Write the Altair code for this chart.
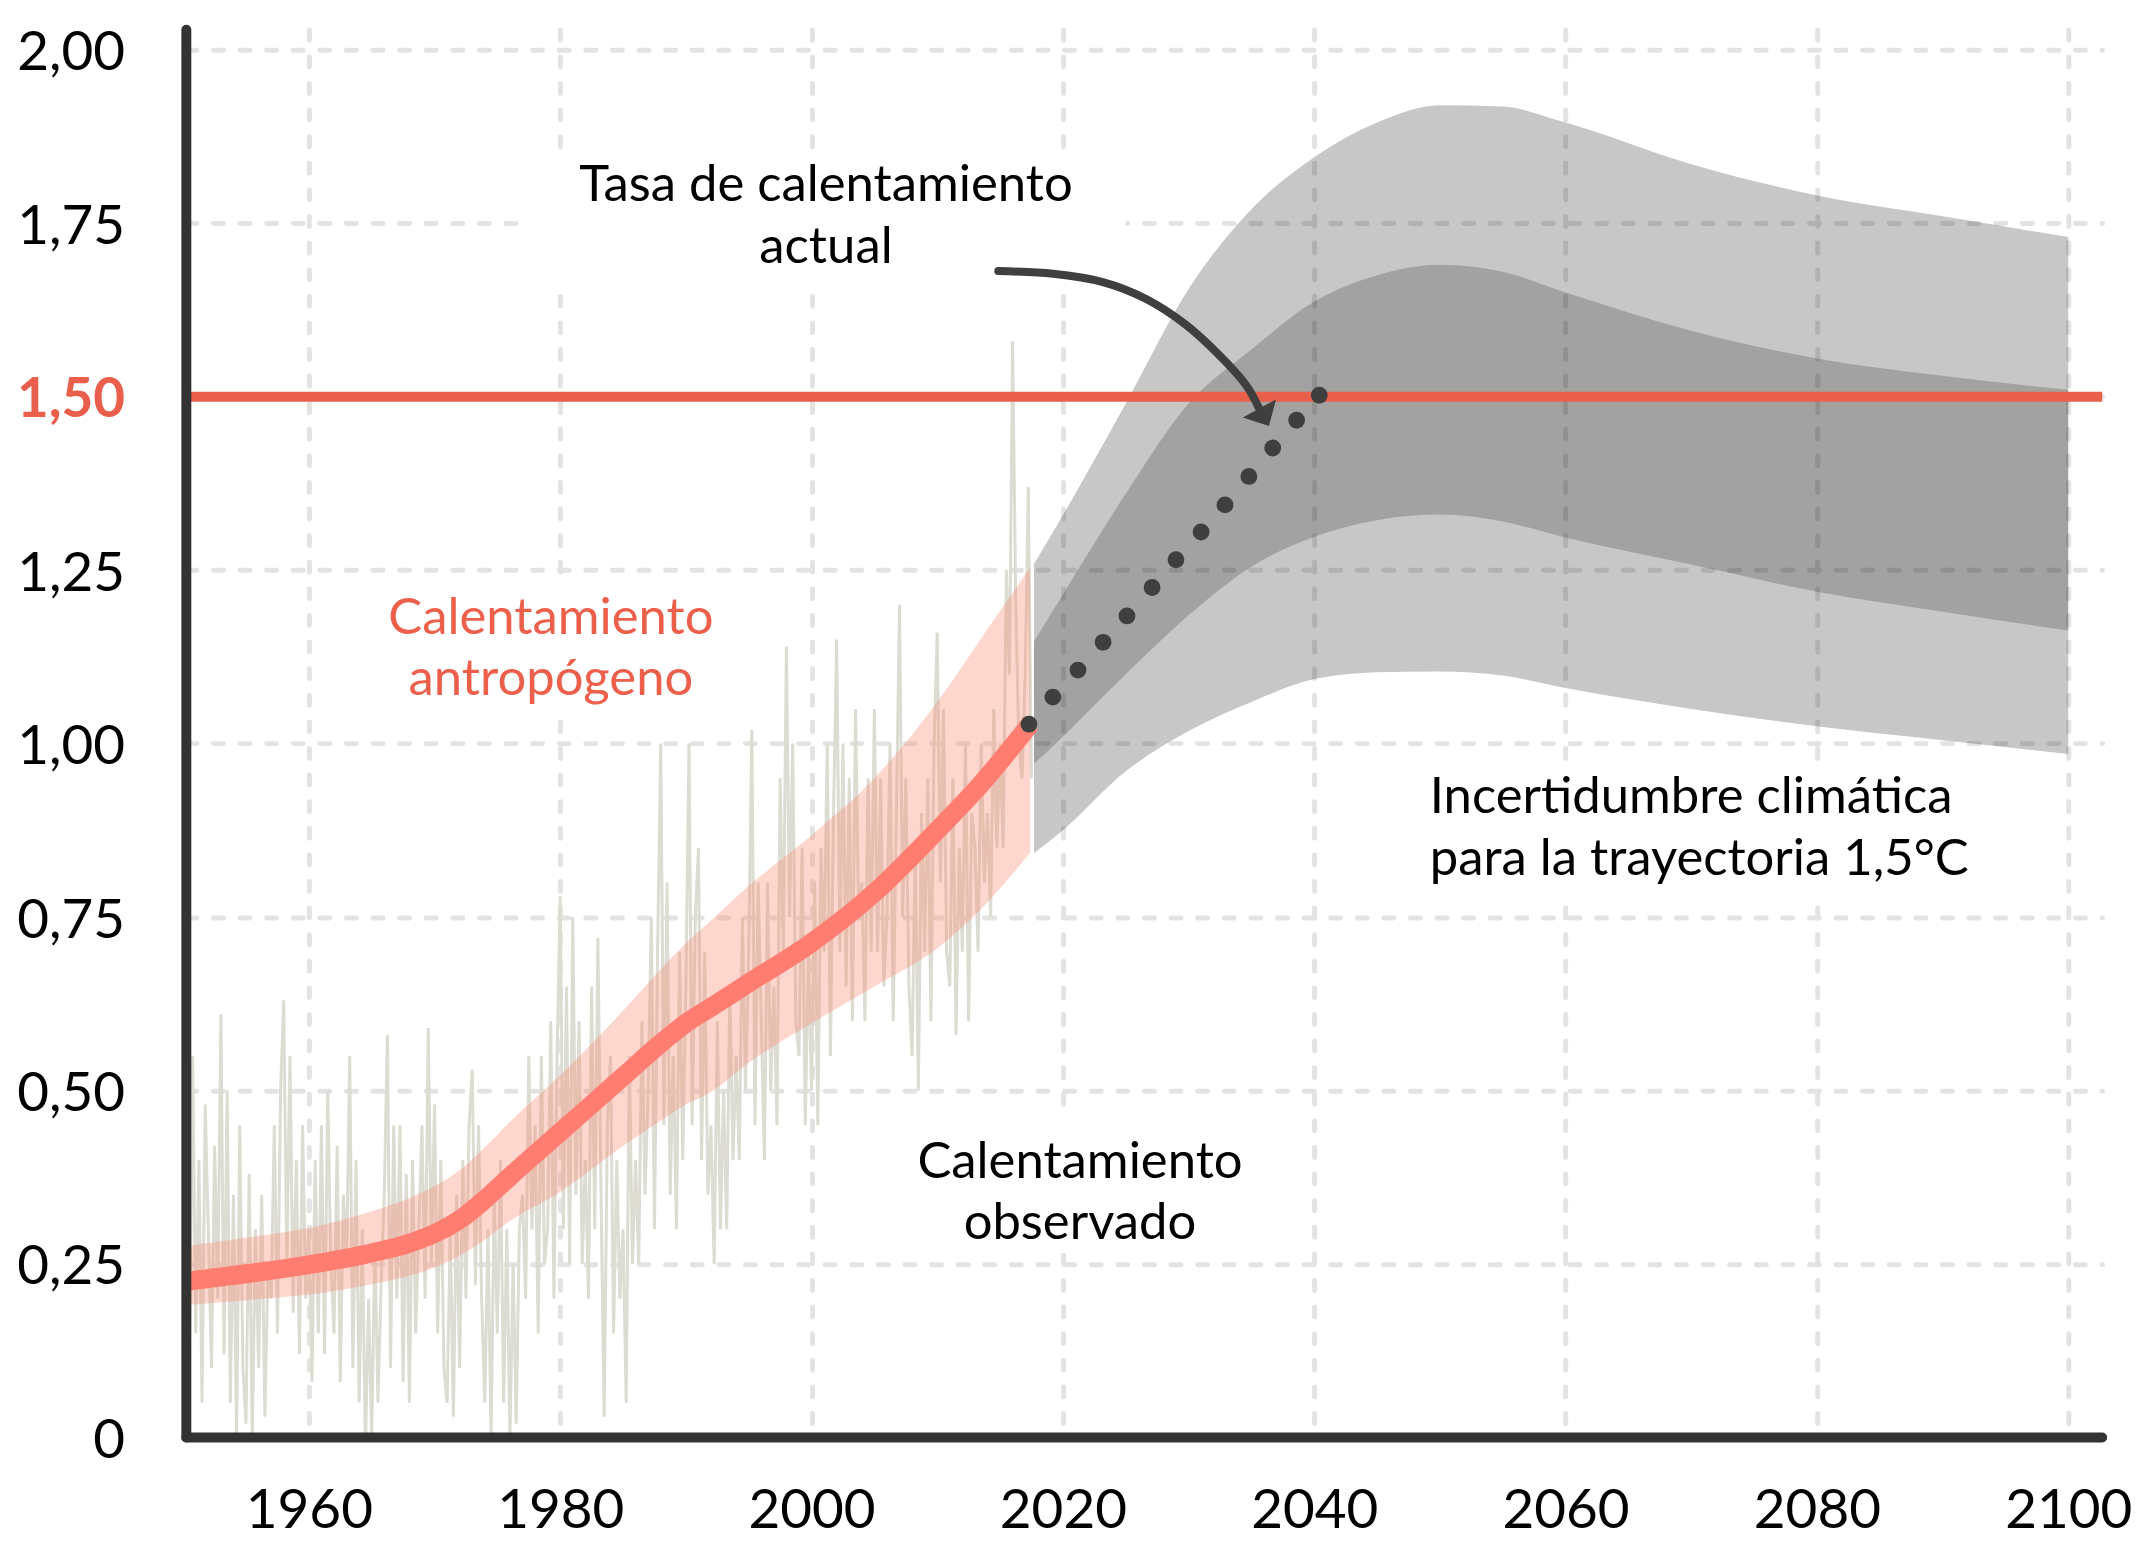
import altair as alt
import pandas as pd

# ------------------------------------------------------------------ data
x_ticks = [1960, 1980, 2000, 2020, 2040, 2060, 2080, 2100]
y_ticks = [0, 0.25, 0.5, 0.75, 1.0, 1.25, 1.5, 1.75, 2.0]

obs_start = 1950.0
obs_step = 0.25
obs_values = [
    0.05, 0.45, 0.10, 0.55,   # 1950
    0.15, 0.40, 0.05, 0.48,   # 1951
    0.30, 0.10, 0.42, 0.20,   # 1952
    0.61, 0.12, 0.50, 0.05,   # 1953
    0.35, 0.00, 0.45, 0.10,   # 1954
    0.02, 0.38, 0.00, 0.30,   # 1955
    0.10, 0.35, 0.03, 0.25,   # 1956
    0.20, 0.45, 0.15, 0.50,   # 1957
    0.63, 0.25, 0.55, 0.18,   # 1958
    0.40, 0.12, 0.45, 0.20,   # 1959
    0.30, 0.08, 0.40, 0.15,   # 1960
    0.45, 0.12, 0.50, 0.25,   # 1961
    0.15, 0.42, 0.08, 0.35,   # 1962
    0.25, 0.55, 0.10, 0.40,   # 1963
    0.05, 0.30, -0.02, 0.20,  # 1964
    0.00, 0.28, 0.05, 0.22,   # 1965
    0.35, 0.58, 0.10, 0.45,   # 1966
    0.20, 0.45, 0.08, 0.38,   # 1967
    0.05, 0.40, 0.15, 0.30,   # 1968
    0.45, 0.20, 0.59, 0.25,   # 1969
    0.48, 0.15, 0.40, 0.10,   # 1970
    0.05, 0.30, 0.03, 0.35,   # 1971
    0.10, 0.40, 0.20, 0.45,   # 1972
    0.53, 0.22, 0.45, 0.20,   # 1973
    0.05, 0.30, 0.00, 0.35,   # 1974
    0.15, 0.40, 0.05, 0.30,   # 1975
    0.00, 0.25, 0.02, 0.30,   # 1976
    0.35, 0.20, 0.55, 0.30,   # 1977
    0.45, 0.15, 0.55, 0.25,   # 1978
    0.30, 0.60, 0.20, 0.55,   # 1979
    0.78, 0.30, 0.65, 0.25,   # 1980
    0.75, 0.35, 0.60, 0.25,   # 1981
    0.40, 0.20, 0.65, 0.30,   # 1982
    0.72, 0.35, 0.03, 0.45,   # 1983
    0.55, 0.15, 0.40, 0.20,   # 1984
    0.30, 0.05, 0.55, 0.25,   # 1985
    0.40, 0.25, 0.60, 0.35,   # 1986
    0.50, 0.75, 0.30, 0.70,   # 1987
    1.00, 0.45, 0.80, 0.35,   # 1988
    0.55, 0.30, 0.70, 0.40,   # 1989
    0.65, 1.00, 0.45, 0.75,   # 1990
    0.85, 0.40, 0.70, 0.35,   # 1991
    0.45, 0.25, 0.60, 0.30,   # 1992
    0.50, 0.30, 0.65, 0.40,   # 1993
    0.55, 0.40, 0.75, 0.50,   # 1994
    0.70, 1.02, 0.45, 0.80,   # 1995
    0.60, 0.40, 0.80, 0.50,   # 1996
    0.65, 0.45, 0.95, 0.70,   # 1997
    1.14, 0.75, 1.00, 0.60,   # 1998
    0.55, 0.85, 0.45, 0.70,   # 1999
    0.50, 0.80, 0.45, 0.85,   # 2000
    0.70, 1.00, 0.55, 0.90,   # 2001
    1.15, 0.70, 1.00, 0.65,   # 2002
    0.95, 0.60, 1.05, 0.75,   # 2003
    0.80, 0.60, 0.95, 0.70,   # 2004
    1.05, 0.70, 0.95, 0.65,   # 2005
    0.75, 1.00, 0.60, 0.90,   # 2006
    1.20, 0.75, 0.95, 0.65,   # 2007
    0.55, 0.85, 0.50, 0.90,   # 2008
    0.70, 0.95, 0.60, 1.00,   # 2009
    1.16, 0.80, 1.05, 0.70,   # 2010
    0.65, 0.95, 0.58, 0.85,   # 2011
    0.70, 1.00, 0.60, 0.90,   # 2012
    0.85, 0.70, 1.00, 0.80,   # 2013
    0.90, 0.75, 1.05, 0.85,   # 2014
    1.00, 0.85, 1.25, 1.10,   # 2015
    1.58, 1.20, 1.00, 0.95,   # 2016
    1.10, 1.37, 0.95,         # 2017
]

# anthropogenic warming: central line and likely range
anth_years = [1950.25, 1955, 1960, 1965, 1968, 1970, 1972, 1974, 1976, 1980, 1985, 1988, 1990, 1992, 1995, 2000, 2005, 2010, 2013.4, 2017.4]
anth_center = [0.225, 0.236, 0.249, 0.266, 0.280, 0.294, 0.314, 0.343, 0.376, 0.44, 0.52, 0.568, 0.597, 0.620, 0.655, 0.713, 0.785, 0.875, 0.94, 1.028]
anth_lower = [0.191, 0.198, 0.206, 0.221, 0.233, 0.245, 0.262, 0.285, 0.312, 0.354, 0.42, 0.457, 0.48, 0.498, 0.54, 0.597, 0.65, 0.705, 0.76, 0.843]
anth_upper = [0.276, 0.288, 0.302, 0.326, 0.345, 0.362, 0.385, 0.418, 0.455, 0.522, 0.615, 0.675, 0.712, 0.745, 0.795, 0.868, 0.95, 1.06, 1.149, 1.254]

# climate uncertainty for the 1.5 C pathway
proj_years = [2017.7, 2020, 2025, 2030, 2035, 2040, 2045, 2050, 2055, 2060, 2070, 2080, 2090, 2100]
light_upper = [1.259, 1.329, 1.49, 1.655, 1.77, 1.845, 1.895, 1.92, 1.918, 1.895, 1.835, 1.79, 1.76, 1.73]
light_lower = [0.842, 0.875, 0.96, 1.018, 1.06, 1.093, 1.103, 1.104, 1.098, 1.08, 1.05, 1.025, 1.005, 0.985]
dark_upper = [1.147, 1.215, 1.36, 1.49, 1.568, 1.637, 1.675, 1.69, 1.68, 1.65, 1.595, 1.555, 1.53, 1.51]
dark_lower = [0.971, 1.01, 1.10, 1.185, 1.255, 1.298, 1.322, 1.33, 1.32, 1.297, 1.258, 1.219, 1.19, 1.163]

# current warming rate (dotted)
dot_years = [2017.3, 2019.2, 2021.2, 2023.2, 2025.1, 2027.1, 2029.0, 2031.0, 2032.9, 2034.8, 2036.7, 2038.6, 2040.4]
dot_values = [1.028, 1.067, 1.106, 1.146, 1.184, 1.225, 1.265, 1.305, 1.344, 1.385, 1.426, 1.466, 1.502]

target_level = [1.5]

# annotation arrow
arrow_years = [2014.86, 2019.22, 2023.18, 2026.59, 2029.76, 2032.38, 2034.52, 2035.72]
arrow_values = [1.681, 1.677, 1.665, 1.641, 1.604, 1.561, 1.518, 1.479]
arrow_head_year = [2036.0]
arrow_head_value = [1.471]

# annotation texts (first-line baseline positions)
center_text = ["Tasa de calentamiento\nactual", "Calentamiento\nantropógeno", "Calentamiento\nobservado"]
center_x = [2001.15, 1979.26, 2021.36]
center_y = [1.7818, 1.1586, 0.3747]
center_col = ["#000000", "#EC5F4B", "#000000"]
left_text = ["Incertidumbre climática\npara la trayectoria 1,5°C"]
left_x = [2049.19]
left_y = [0.9002]

# white label backgrounds
box_x1 = [1977.0, 1965.6, 2006.8, 2048.0]
box_x2 = [2025.0, 1992.9, 2036.1, 2094.0]
box_y1 = [1.663, 1.048, 0.266, 0.780]
box_y2 = [1.842, 1.228, 0.459, 0.969]

X_MIN, X_MAX = 1950.25, 2102.7
Y_MIN, Y_MAX = 0.0, 2.0287

# ------------------------------------------------------------------ frames
obs_df = pd.DataFrame({"x": [obs_start + obs_step * i for i in range(len(obs_values))], "y": obs_values})
anth_df = pd.DataFrame({"x": anth_years, "y": anth_center, "lo": anth_lower, "hi": anth_upper})
light_df = pd.DataFrame({"x": proj_years, "lo": light_lower, "hi": light_upper})
dark_df = pd.DataFrame({"x": proj_years, "lo": dark_lower, "hi": dark_upper})
dots_df = pd.DataFrame({"x": dot_years, "y": dot_values})
target_df = pd.DataFrame({"y": target_level})
arrow_df = pd.DataFrame({"x": arrow_years, "y": arrow_values, "o": list(range(len(arrow_years)))})
head_df = pd.DataFrame({"x": arrow_head_year, "y": arrow_head_value})
ctext_df = pd.DataFrame({"x": center_x, "y": center_y, "text": center_text, "c": center_col})
ltext_df = pd.DataFrame({"x": left_x, "y": left_y, "text": left_text})
box_df = pd.DataFrame({"x": box_x1, "x2": box_x2, "y": box_y1, "y2": box_y2})
xaxisline_df = pd.DataFrame({"y": [Y_MIN]})
yaxisline_df = pd.DataFrame({"x": [X_MIN]})

# ------------------------------------------------------------------ scales / axes
FONT = "Lato"
grid_kw = dict(grid=True, gridColor="#e3e3e3", gridWidth=5, gridDash=[10, 16.7], gridCap="round",
               domain=False, ticks=False, labelFont=FONT, labelFontSize=55, title=None)

xscale = alt.Scale(domain=[X_MIN, X_MAX], nice=False, zero=False)
yscale = alt.Scale(domain=[Y_MIN, Y_MAX], nice=False, zero=False)

xaxis = alt.Axis(values=x_ticks, format="d", labelColor="#000000", labelPadding=47,
                 labelFlush=False, labelOverlap=False, **grid_kw)
yaxis = alt.Axis(
    values=y_ticks,
    labelExpr="datum.value == 0 ? '0' : replace(format(datum.value, '.2f'), '.', ',')",
    labelPadding=62, labelOffset=3, labelOverlap=False,
    labelColor={"condition": {"test": "datum.value == 1.5", "value": "#EA5F4B"}, "value": "#000000"},
    labelFontWeight={"condition": {"test": "datum.value == 1.5", "value": "bold"}, "value": "normal"},
    **grid_kw,
)

X = alt.X("x:Q", scale=xscale, axis=xaxis, title=None)
Y = alt.Y("y:Q", scale=yscale, axis=yaxis, title=None)
YLO = alt.Y("lo:Q", scale=yscale, axis=yaxis, title=None)

# ------------------------------------------------------------------ layers
boxes = alt.Chart(box_df).mark_rect(color="white").encode(
    x=X, x2="x2:Q", y=Y, y2="y2:Q")

noise = alt.Chart(obs_df).mark_line(color="#DCDCD2", strokeWidth=3, clip=True).encode(x=X, y=Y)

anth_band = alt.Chart(anth_df).mark_area(color="#F98A73", opacity=0.35, interpolate="monotone").encode(
    x=X, y=YLO, y2="hi:Q")

light_band = alt.Chart(light_df).mark_area(color="#000000", opacity=0.22, interpolate="monotone").encode(
    x=X, y=YLO, y2="hi:Q")
dark_band = alt.Chart(dark_df).mark_area(color="#000000", opacity=0.186, interpolate="monotone").encode(
    x=X, y=YLO, y2="hi:Q")

target = alt.Chart(target_df).mark_rule(color="#EA5F4B", strokeWidth=10).encode(y=Y)

anth_line = alt.Chart(anth_df).mark_line(color="#FF7C70", strokeWidth=19, interpolate="monotone").encode(
    x=X, y=Y)

dots = alt.Chart(dots_df).mark_circle(color="#3F3F3F", size=285, opacity=1).encode(x=X, y=Y)

arrow = alt.Chart(arrow_df).mark_line(color="#3F3F3F", strokeWidth=8, strokeCap="round",
                                      interpolate="cardinal").encode(x=X, y=Y, order="o:Q")
head = alt.Chart(head_df).mark_point(shape="M-1,-0.5L1,-0.5L0,0.55Z", filled=True, size=1444,
                                     angle=331.3, color="#3F3F3F", opacity=1, strokeWidth=0).encode(x=X, y=Y)

ctext = alt.Chart(ctext_df).mark_text(font=FONT, fontSize=51, align="center", baseline="alphabetic",
                                      lineBreak="\n", lineHeight=62).encode(
    x=X, y=Y, text="text:N", color=alt.Color("c:N", scale=None))
ltext = alt.Chart(ltext_df).mark_text(font=FONT, fontSize=51, align="left", baseline="alphabetic",
                                      lineBreak="\n", lineHeight=62, color="#000000").encode(
    x=X, y=Y, text="text:N")

xaxis_line = alt.Chart(xaxisline_df).mark_rule(color="#333333", strokeWidth=10, strokeCap="round").encode(y=Y)
yaxis_line = alt.Chart(yaxisline_df).mark_rule(color="#333333", strokeWidth=10, strokeCap="round").encode(x=X)

chart = alt.layer(
    boxes, noise, anth_band, light_band, dark_band, target, anth_line, dots, arrow, head,
    ctext, ltext, yaxis_line, xaxis_line,
).properties(
    width=1923, height=1413,
    padding={"left": 179, "top": 19, "right": 45, "bottom": 103},
    autosize=alt.AutoSizeParams(type="none"),
    background="white",
).configure_view(stroke=None)

chart.save("out.html", embed_options={"renderer": "svg", "actions": False})
